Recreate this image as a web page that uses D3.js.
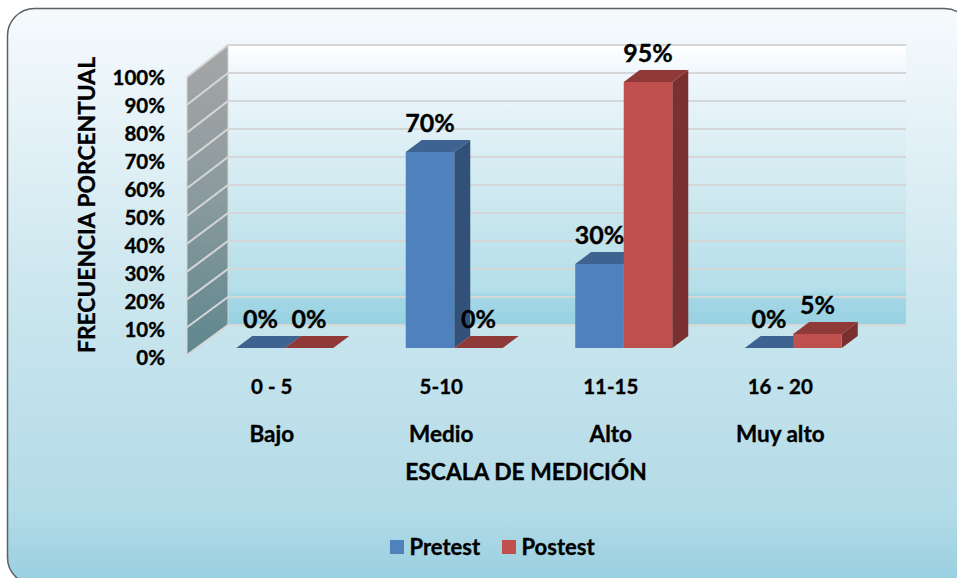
<!DOCTYPE html>
<html>
<head>
<meta charset="utf-8">
<script src="https://cdn.jsdelivr.net/npm/d3@7"></script>
<style>
  body { margin: 0; background: #fff; }
  text { font-family: Lato, "Open Sans", sans-serif; font-weight: 700; fill: #000; stroke: #000; stroke-width: 0.35px; }
</style>
</head>
<body>
<div id="chart"></div>
<script>
// Donnees
const rangos = ["0 - 5", "5-10", "11-15", "16 - 20"];
const niveles = ["Bajo", "Medio", "Alto", "Muy alto"];
const series = ["Pretest", "Postest"];
const pretest = [0, 70, 30, 0];
const postest = [0, 0, 95, 5];
const ticks = [0, 10, 20, 30, 40, 50, 60, 70, 80, 90, 100];

const width = 957, height = 578;

// couleurs : face, dessus, cote
const colors = {
  Pretest: ["#4f81bd", "#3e6390", "#325179"],
  Postest: ["#c0504d", "#8f3a38", "#7a302e"]
};

const svg = d3.select("#chart").append("svg")
  .attr("width", width)
  .attr("height", height)
  .style("display", "block");

const defs = svg.append("defs");
function gradient(id, stops) {
  const g = defs.append("linearGradient").attr("id", id)
    .attr("x1", 0).attr("y1", 0).attr("x2", 0).attr("y2", 1);
  stops.forEach(s => g.append("stop").attr("offset", s[0]).attr("stop-color", s[1]));
}
gradient("bg", [[0, "#f6fafd"], [0.5, "#cbe6ee"], [0.87, "#b3dbe8"], [1, "#98cfe0"]]);
gradient("wall", [[0, "#ffffff"], [0.1, "#eff7fc"], [0.55, "#cde8ef"], [0.88, "#b3dee9"], [0.89, "#a6d8e6"], [1, "#97d1e1"]]);
gradient("side", [[0, "#a6a6a6"], [0.5, "#8a9a9e"], [1, "#5d878e"]]);

// fond arrondi (coupe a droite et en bas)
svg.append("rect")
  .attr("x", 7.5).attr("y", 8.5)
  .attr("width", 964).attr("height", 576)
  .attr("rx", 27).attr("ry", 27)
  .attr("fill", "url(#bg)")
  .attr("stroke", "#5f5f5f")
  .attr("stroke-width", 1.5);

// Echelles
const yBack = d3.scaleLinear().domain([0, 100]).range([325, 45]);
const yFront = d3.scaleLinear().domain([0, 100]).range([355, 77]);
const yBar = d3.scaleLinear().domain([0, 100]).range([348, 68]);
const yLabel = d3.scaleLinear().domain([0, 100]).range([358, 78]);

const xAxisScale = d3.scaleBand().domain(rangos).range([187, 865]);
const xLevelScale = d3.scaleBand().domain(niveles).range([187, 865]);
const x0 = d3.scaleBand().domain(rangos).range([200, 878]).paddingInner(0.4277).paddingOuter(0.2139);
const x1 = d3.scaleBand().domain(series).range([0, x0.bandwidth()]);

const depthX = 16, depthY = 12;
const xBackLeft = 228, xBackRight = 906, xFrontLeft = 187;
const line = d3.line();

// Paroi du fond
svg.append("rect")
  .attr("x", xBackLeft).attr("y", yBack(100))
  .attr("width", xBackRight - xBackLeft).attr("height", yBack(0) - yBack(100))
  .attr("fill", "url(#wall)");

// Paroi laterale
svg.append("path")
  .attr("d", line([[xFrontLeft, yFront(100)], [xBackLeft, yBack(100)], [xBackLeft, yBack(0)], [xFrontLeft, yFront(0)]]) + "Z")
  .attr("fill", "url(#side)");

// Lignes de grille
const grid = svg.append("g");
grid.selectAll("path").data(ticks).join("path")
  .attr("d", d => line([[xFrontLeft, yFront(d)], [xBackLeft, yBack(d)], [xBackRight, yBack(d)]]))
  .attr("fill", "none")
  .attr("stroke", "#d5d6d7")
  .attr("stroke-width", 2);
grid.append("path")
  .attr("d", line([[xFrontLeft, yFront(100)], [xFrontLeft, yFront(0)]]))
  .attr("stroke", "#d5d6d7");
grid.append("path")
  .attr("d", line([[xBackLeft, yBack(100)], [xBackLeft, yBack(0)]]))
  .attr("stroke", "#d5d6d7");

// Barres en 3D
function bar3d(serie, values) {
  const c = colors[serie];
  const g = svg.append("g").attr("class", serie);
  values.forEach((v, i) => {
    const x = x0(rangos[i]) + x1(serie);
    const w = x1.bandwidth();
    const y = yBar(v), b = yBar(0);
    // cote
    g.append("path")
      .attr("d", line([[x + w, y], [x + w + depthX, y - depthY], [x + w + depthX, b - depthY], [x + w, b]]) + "Z")
      .attr("fill", c[2]);
    // dessus
    g.append("path")
      .attr("d", line([[x, y], [x + depthX, y - depthY], [x + w + depthX, y - depthY], [x + w, y]]) + "Z")
      .attr("fill", c[1]);
    // face
    g.append("rect")
      .attr("x", x).attr("y", y)
      .attr("width", w).attr("height", b - y)
      .attr("fill", c[0]);
  });
}
bar3d("Pretest", pretest);
bar3d("Postest", postest);

// Etiquettes de valeurs
function valueLabels(serie, values) {
  svg.append("g").selectAll("text").data(values).join("text")
    .attr("x", (d, i) => x0(rangos[i]) + x1(serie) + x1.bandwidth() / 2)
    .attr("y", d => yBar(d) - 29)
    .attr("dy", "0.35em")
    .attr("text-anchor", "middle")
    .style("font-size", "25px")
    .text(d => d + "%");
}
valueLabels("Pretest", pretest);
valueLabels("Postest", postest);

// Axe Y
const yAxis = svg.append("g")
  .attr("transform", "translate(165,0)")
  .call(d3.axisLeft(yLabel).tickValues(ticks).tickFormat(d => d + "%").tickSize(0).tickPadding(0));
yAxis.select(".domain").remove();
yAxis.selectAll("text").style("font-size", "20.5px");

// Axe X sur deux niveaux
const xAxisRange = svg.append("g")
  .attr("transform", "translate(0,387)")
  .call(d3.axisBottom(xAxisScale).tickSize(0).tickPadding(0));
const xAxisLevel = svg.append("g")
  .attr("transform", "translate(0,434)")
  .call(d3.axisBottom(xLevelScale).tickSize(0).tickPadding(0));
xAxisRange.select(".domain").remove();
xAxisLevel.select(".domain").remove();
xAxisRange.selectAll("text").attr("y", 0).attr("dy", "0.35em").style("font-size", "20.5px");
xAxisLevel.selectAll("text").attr("y", 0).attr("dy", "0.35em").style("font-size", "22.5px");

// Titres
svg.append("text")
  .attr("x", 526).attr("y", 472).attr("dy", "0.35em")
  .attr("text-anchor", "middle")
  .style("font-size", "22.8px")
  .text("ESCALA DE MEDICIÓN");
svg.append("text")
  .attr("transform", "translate(87,205) rotate(-90)")
  .attr("dy", "0.35em")
  .attr("text-anchor", "middle")
  .style("font-size", "22.8px")
  .text("FRECUENCIA PORCENTUAL");

// Legende
const legendX = d3.scaleOrdinal().domain(series).range([390, 502]);
const legend = svg.append("g").selectAll("g").data(series).join("g")
  .attr("transform", d => `translate(${legendX(d)},540)`);
legend.append("rect")
  .attr("width", 14).attr("height", 14)
  .attr("fill", d => colors[d][0]);
legend.append("text")
  .attr("x", 19.5).attr("y", 7).attr("dy", "0.35em")
  .style("font-size", "22px")
  .text(d => d);
</script>
</body>
</html>
